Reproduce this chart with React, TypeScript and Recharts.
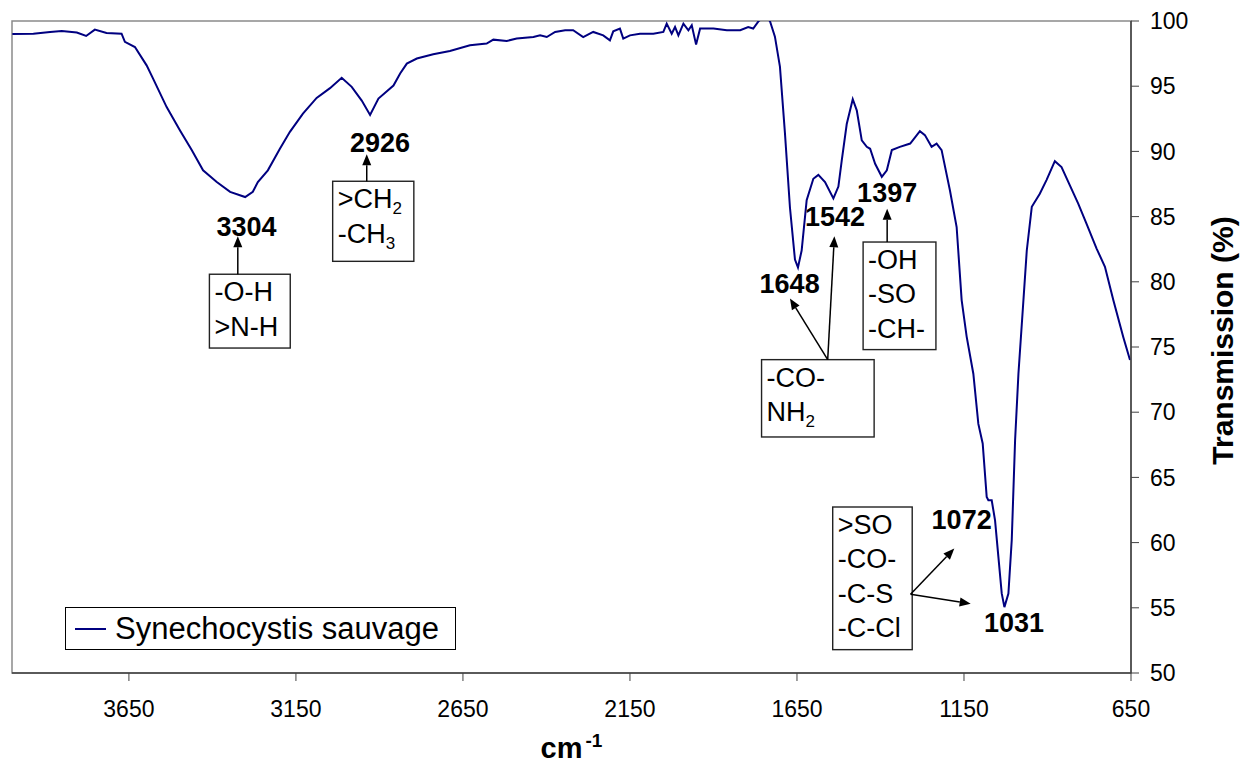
import {
  Line,
  LineChart,
  ReferenceArea,
  ReferenceDot,
  ReferenceLine,
  XAxis,
  YAxis,
} from "recharts";

// FTIR spectrum, wavenumber (cm-1) vs transmission (%)
const wavenumbers = [
  3999, 3936, 3886, 3851, 3806, 3778, 3752, 3717, 3672, 3662,
  3632, 3597, 3578, 3537, 3497, 3462, 3428, 3387, 3347, 3302,
  3279, 3264, 3234, 3198, 3168, 3129, 3088, 3048, 3013, 2983,
  2953, 2928, 2903, 2858, 2838, 2818, 2788, 2739, 2689, 2629,
  2579, 2559, 2519, 2489, 2439, 2419, 2399, 2374, 2344, 2320,
  2290, 2260, 2230, 2210, 2200, 2180, 2170, 2150, 2120, 2080,
  2050, 2040, 2025, 2015, 2005, 1990, 1975, 1965, 1952, 1940,
  1900, 1860, 1820, 1796, 1781, 1766, 1748, 1731, 1716, 1701,
  1686, 1671, 1656, 1647, 1636, 1621, 1601, 1586, 1566, 1541,
  1526, 1516, 1501, 1483, 1471, 1456, 1441, 1431, 1416, 1396,
  1381, 1366, 1342, 1311, 1282, 1267, 1247, 1232, 1217, 1192,
  1172, 1157, 1142, 1122, 1107, 1094, 1082, 1077, 1067, 1057,
  1047, 1037, 1029, 1017, 1007, 997, 987, 972, 962, 947,
  923, 903, 878, 858, 833, 808, 783, 753, 728, 703,
  673, 653,
];

const transmission = [
  99.0, 99.03, 99.16, 99.23, 99.11, 98.85, 99.34, 99.08, 99.03, 98.4,
  98.0, 96.6, 95.6, 93.4, 91.6, 90.1, 88.55, 87.65, 86.9, 86.5,
  86.9, 87.65, 88.55, 90.2, 91.5, 92.9, 94.1, 94.85, 95.65, 94.95,
  93.9, 92.8, 94.05, 95.05, 95.97, 96.73, 97.12, 97.45, 97.7, 98.14,
  98.27, 98.57, 98.47, 98.65, 98.77, 98.9, 98.77, 99.16, 99.29, 99.29,
  98.77, 99.16, 98.9, 98.52, 99.21, 99.42, 98.65, 98.9, 99.03, 99.03,
  99.16, 99.8, 99.03, 99.54, 98.9, 99.8, 99.29, 99.67, 98.19, 99.42,
  99.42, 99.29, 99.29, 99.54, 99.42, 99.95, 100.4, 100.0, 98.8, 96.5,
  91.4, 85.7, 81.7, 81.1, 82.4, 86.25, 87.9, 88.2, 87.65, 86.4,
  87.3, 89.3, 92.1, 94.0, 93.15, 90.85, 90.35, 90.2, 89.05, 88.05,
  88.55, 90.1, 90.35, 90.6, 91.55, 91.25, 90.35, 90.6, 90.1, 87.0,
  84.2, 78.6, 75.8, 72.95, 69.1, 67.6, 63.5, 63.25, 63.25, 61.7,
  58.9, 56.1, 55.05, 56.1, 60.2, 67.85, 72.95, 78.6, 82.4, 85.75,
  86.75, 87.8, 89.25, 88.8, 87.4, 86.0, 84.45, 82.55, 81.15, 78.6,
  75.75, 74.0,
];

const xTicks = [3650, 3150, 2650, 2150, 1650, 1150, 650];
const yTicks = [50, 55, 60, 65, 70, 75, 80, 85, 90, 95, 100];

const seriesName = "Synechocystis sauvage";

// peak labels, anchored in data coordinates (text centre / baseline)
const peakLabels = [
  { text: "3304", wn: 3298, t: 83.49 },
  { text: "2926", wn: 2898, t: 89.95 },
  { text: "1648", wn: 1672, t: 79.14 },
  { text: "1542", wn: 1536, t: 84.31 },
  { text: "1397", wn: 1380, t: 86.1 },
  { text: "1072", wn: 1157, t: 61.07 },
  { text: "1031", wn: 1000, t: 53.14 },
];

type BoxLine = { main: string; sub?: string };

const groupBoxes: { lines: BoxLine[]; wn1: number; wn2: number; t1: number; t2: number }[] = [
  { lines: [{ main: "-O-H" }, { main: ">N-H" }], wn1: 3409, wn2: 3167, t1: 80.58, t2: 74.92 },
  { lines: [{ main: ">CH", sub: "2" }, { main: "-CH", sub: "3" }], wn1: 3040, wn2: 2797, t1: 87.71, t2: 81.57 },
  { lines: [{ main: "-OH" }, { main: "-SO" }, { main: "-CH-" }], wn1: 1452, wn2: 1234, t1: 83.05, t2: 74.8 },
  { lines: [{ main: "-CO-" }, { main: "NH", sub: "2" }], wn1: 1756, wn2: 1419, t1: 74.03, t2: 68.1 },
  { lines: [{ main: ">SO" }, { main: "-CO-" }, { main: "-C-S" }, { main: "-C-Cl" }], wn1: 1543, wn2: 1305, t1: 62.73, t2: 51.79 },
];

const arrows = [
  { from: [3324, 80.58], to: [3324, 83.49] },
  { from: [2938, 87.71], to: [2938, 89.78] },
  { from: [1380, 83.05], to: [1380, 85.61] },
  { from: [1558, 74.03], to: [1671, 78.71] },
  { from: [1558, 74.03], to: [1538, 83.49] },
  { from: [1310, 56.04], to: [1179, 59.54] },
  { from: [1310, 56.04], to: [1130, 55.32] },
];

const data = wavenumbers.map((wn, i) => ({ wn, t: transmission[i] }));

const FONT = '"Liberation Sans", Arial, sans-serif';
const NAVY = "#000080";
const AXIS = "#404040";

function ArrowShape(p: { x1?: number; y1?: number; x2?: number; y2?: number }) {
  const x1 = Number(p.x1), y1 = Number(p.y1), x2 = Number(p.x2), y2 = Number(p.y2);
  const a = Math.atan2(y2 - y1, x2 - x1);
  const len = 11;
  const half = 4.5;
  const bx = x2 - len * Math.cos(a);
  const by = y2 - len * Math.sin(a);
  const nx = -Math.sin(a) * half;
  const ny = Math.cos(a) * half;
  return (
    <g>
      <line x1={x1} y1={y1} x2={bx} y2={by} stroke="#000" strokeWidth={1.5} />
      <polygon points={`${x2},${y2} ${bx + nx},${by + ny} ${bx - nx},${by - ny}`} fill="#000" />
    </g>
  );
}

function boxShape(lines: BoxLine[]) {
  return (p: { x?: number; y?: number; width?: number; height?: number }) => {
    const x = Number(p.x), y = Number(p.y);
    return (
      <g>
        <rect x={x} y={y} width={p.width} height={p.height} fill="#fff" stroke="#222" strokeWidth={1.4} />
        {lines.map((ln, i) => (
          <text key={i} x={x + 5} y={y + 27 + i * 34.4} fontFamily={FONT} fontSize={27} fill="#000">
            {ln.main}
            {ln.sub ? (
              <tspan fontSize={17} dy={6}>
                {ln.sub}
              </tspan>
            ) : null}
          </text>
        ))}
      </g>
    );
  };
}

function peakShape(text: string) {
  return (p: { cx?: number; cy?: number }) => (
    <text x={p.cx} y={p.cy} textAnchor="middle" fontFamily={FONT} fontSize={27} fontWeight="bold" fill="#000">
      {text}
    </text>
  );
}

function XTitle(props: { viewBox?: { x: number; y: number; width: number; height: number } }) {
  const vb = props.viewBox;
  if (!vb) return null;
  return (
    <text x={vb.x + vb.width / 2} y={vb.y + 84.5} textAnchor="middle" fontFamily={FONT} fontWeight="bold" fill="#000">
      <tspan fontSize={29}>cm</tspan>
      <tspan fontSize={19} dx={3} dy={-11}>-1</tspan>
    </text>
  );
}

function YTitle(props: { viewBox?: { x: number; y: number; width: number; height: number } }) {
  const vb = props.viewBox;
  if (!vb) return null;
  const cx = vb.x + 91;
  const cy = 340.5;
  return (
    <text
      x={cx}
      y={cy}
      transform={`rotate(-90, ${cx}, ${cy})`}
      textAnchor="middle"
      dominantBaseline="central"
      fontFamily={FONT}
      fontSize={30}
      fontWeight="bold"
      fill="#000"
    >
      Transmission (%)
    </text>
  );
}

export default function App() {
  return (
    <div style={{ position: "absolute", left: 0, top: 0, width: 1258, height: 764, background: "#fff", fontFamily: FONT }}>
      <LineChart width={1258} height={764} data={data} margin={{ top: 21, right: 27, left: 12, bottom: 31 }}>
        <ReferenceArea x1={4000} x2={650} y1={50} y2={100} fill="none" stroke="#8a8a8a" strokeWidth={1.5} />
        <XAxis
          type="number"
          dataKey="wn"
          domain={[650, 4000]}
          reversed
          ticks={xTicks}
          interval={0}
          height={60}
          tickSize={8}
          tickMargin={20}
          tick={{ fontSize: 23, fill: "#000", fontFamily: FONT }}
          axisLine={{ stroke: AXIS, strokeWidth: 1.5 }}
          tickLine={{ stroke: AXIS, strokeWidth: 1 }}
          label={<XTitle />}
        />
        <YAxis
          orientation="right"
          type="number"
          domain={[50, 100]}
          allowDataOverflow
          ticks={yTicks}
          interval={0}
          width={100}
          tickSize={8}
          tickMargin={11}
          tick={{ fontSize: 23, fill: "#000", fontFamily: FONT, textAnchor: "start" }}
          axisLine={{ stroke: AXIS, strokeWidth: 1.5 }}
          tickLine={{ stroke: AXIS, strokeWidth: 1 }}
          label={<YTitle />}
        />
        <Line
          type="linear"
          dataKey="t"
          name={seriesName}
          stroke={NAVY}
          strokeWidth={2}
          dot={false}
          activeDot={false}
          isAnimationActive={false}
        />
        {groupBoxes.map((b, i) => (
          <ReferenceArea key={`box${i}`} x1={b.wn1} x2={b.wn2} y1={b.t2} y2={b.t1} shape={boxShape(b.lines)} />
        ))}
        {arrows.map((a, i) => (
          <ReferenceLine
            key={`arr${i}`}
            segment={[
              { x: a.from[0], y: a.from[1] },
              { x: a.to[0], y: a.to[1] },
            ]}
            shape={ArrowShape}
          />
        ))}
        {peakLabels.map((p) => (
          <ReferenceDot key={p.text} x={p.wn} y={p.t} r={1} shape={peakShape(p.text)} />
        ))}
      </LineChart>
      <div
        style={{
          position: "absolute",
          left: 65,
          top: 607,
          width: 391,
          height: 43,
          boxSizing: "border-box",
          border: "1px solid #000",
          background: "#fff",
          display: "flex",
          alignItems: "center",
        }}
      >
        <span style={{ display: "inline-block", marginLeft: 9, width: 31, height: 2, background: NAVY }} />
        <span style={{ marginLeft: 9, fontSize: 31, lineHeight: "43px", color: "#000", whiteSpace: "nowrap" }}>{seriesName}</span>
      </div>
    </div>
  );
}
